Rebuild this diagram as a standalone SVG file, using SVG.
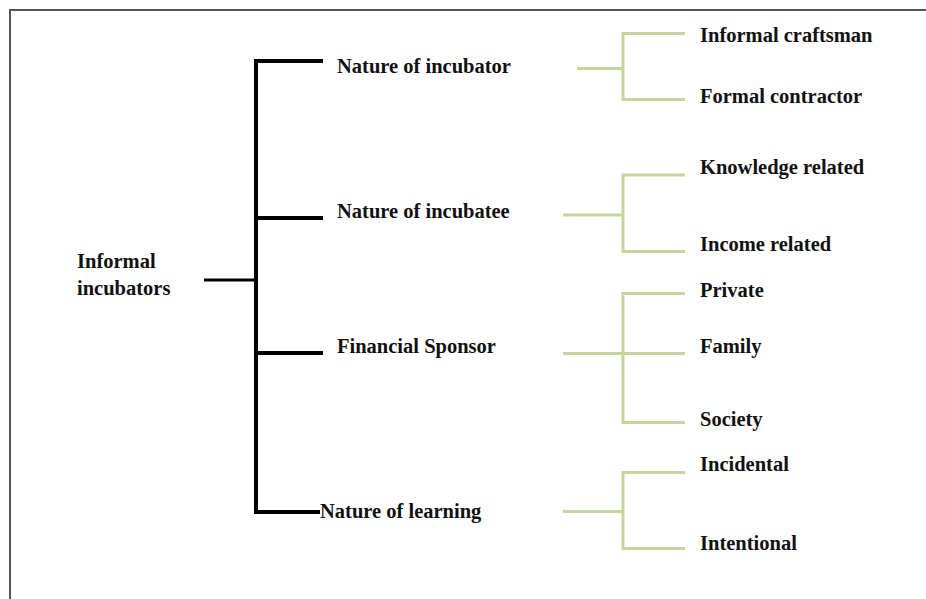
<svg xmlns="http://www.w3.org/2000/svg" width="926" height="599" viewBox="0 0 926 599">
<style>
.t{font-family:"Liberation Serif","Times New Roman",serif;font-weight:bold;font-size:20.5px;fill:#111}
.b{stroke:#000;stroke-width:4;fill:none}
.g{stroke:#c3d69b;stroke-width:3;fill:none}
</style>
<rect width="926" height="599" fill="#fff"/>
<path d="M10,599 V10 H926" stroke="#555" stroke-width="2" fill="none"/>
<g id="connectors">
<path class="b" d="M204,280 H256" style="stroke-width:3"/>
<path class="b" d="M323,61 H256 V512 H320"/>
<path class="b" d="M256,218 H323"/>
<path class="b" d="M256,353 H323"/>
<path class="g" d="M577,68.5 H623"/>
<path class="g" d="M685,33.5 H623 V99.5 H685"/>
<path class="g" d="M563,215 H623"/>
<path class="g" d="M685,175 H623 V251.5 H685"/>
<path class="g" d="M563,353.5 H685"/>
<path class="g" d="M685,293.5 H623 V422.5 H685"/>
<path class="g" d="M563,511.5 H623"/>
<path class="g" d="M685,472.5 H623 V548.5 H685"/>
</g>
<g id="root"><text class="t" x="77" y="268">Informal</text><text class="t" x="77" y="295">incubators</text></g>
<g id="n1"><text class="t" x="337" y="73">Nature of incubator</text></g>
<g id="n2"><text class="t" x="337" y="218">Nature of incubatee</text></g>
<g id="n3"><text class="t" x="337" y="352.5">Financial Sponsor</text></g>
<g id="n4"><text class="t" x="320" y="518">Nature of learning</text></g>
<g id="l1"><text class="t" x="700" y="41.5">Informal craftsman</text></g>
<g id="l2"><text class="t" x="700" y="103">Formal contractor</text></g>
<g id="l3"><text class="t" x="700" y="174">Knowledge related</text></g>
<g id="l4"><text class="t" x="700" y="251">Income related</text></g>
<g id="l5"><text class="t" x="700" y="296.5">Private</text></g>
<g id="l6"><text class="t" x="700" y="353">Family</text></g>
<g id="l7"><text class="t" x="700" y="425.5">Society</text></g>
<g id="l8"><text class="t" x="700" y="471">Incidental</text></g>
<g id="l9"><text class="t" x="700" y="550">Intentional</text></g>
</svg>
